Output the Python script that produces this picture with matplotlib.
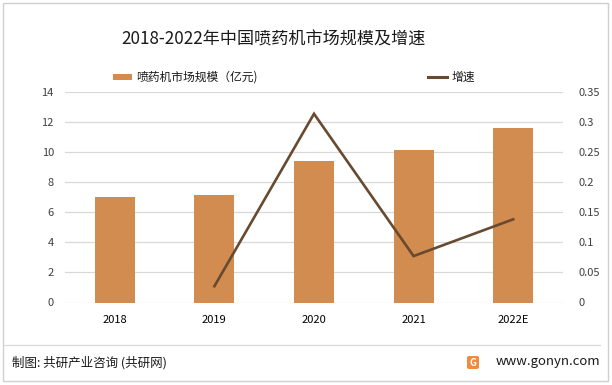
import matplotlib
matplotlib.use("Agg")
import matplotlib.pyplot as plt
from matplotlib.patches import Rectangle, FancyBboxPatch
from matplotlib.lines import Line2D

plt.rcParams['font.family'] = ['Noto Sans CJK SC', 'DejaVu Sans']

years = ["2018", "2019", "2020", "2021", "2022E"]
market_size = [7.0, 7.15, 9.4, 10.13, 11.55]
growth_years = ["2019", "2020", "2021", "2022E"]
growth = [0.027, 0.313, 0.077, 0.138]

title = "2018-2022年中国喷药机市场规模及增速"
bar_label = "喷药机市场规模（亿元)"
line_label = "增速"
footer_left = "制图: 共研产业咨询 (共研网)"
footer_right = "www.gonyn.com"

bar_color = "#D38C4F"
line_color = "#674A30"
grid_color = "#D9D9D9"
text_color = "#404040"

W, H = 612, 385
fig = plt.figure(figsize=(W / 100, H / 100), dpi=100)
fig.patch.set_facecolor("white")

# outer border
fig.add_artist(Rectangle((3 / W, 4 / H), 605 / W, 378 / H, transform=fig.transFigure,
                         fill=False, edgecolor="#D0D0D0", linewidth=1.0))
# footer separator
fig.add_artist(Line2D([3 / W, 600 / W], [1 - 345 / H, 1 - 345 / H], transform=fig.transFigure,
                      color="#D9D9D9", linewidth=0.9))

ax = fig.add_axes([65 / W, 1 - 302.5 / H, 498 / W, 211 / H])
ax.set_facecolor("none")
x = list(range(len(years)))
ax.bar(x, market_size, width=0.4, color=bar_color, zorder=2, label=bar_label)
ax.set_xlim(-0.5, len(years) - 0.5)
ax.set_ylim(0, 14)
ax.set_yticks(range(0, 15, 2))
ax.set_xticks(x)
ax.set_xticklabels(years)
ax.yaxis.grid(True, color=grid_color, linewidth=0.9, zorder=0)
ax.set_axisbelow(True)
for s in ax.spines.values():
    s.set_visible(False)
ax.tick_params(axis="both", length=0, labelsize=8, colors=text_color)
ax.tick_params(axis="y", pad=8)
ax.tick_params(axis="x", pad=9, colors="#000000")

ax2 = ax.twinx()
gx = [years.index(y) for y in growth_years]
ax2.plot(gx, growth, color=line_color, linewidth=1.9, zorder=3, label=line_label,
         solid_joinstyle="miter")
ax2.set_ylim(0, 0.35)
ax2.set_yticks([0, 0.05, 0.1, 0.15, 0.2, 0.25, 0.3, 0.35])
ax2.set_yticklabels(["0", "0.05", "0.1", "0.15", "0.2", "0.25", "0.3", "0.35"])
for s in ax2.spines.values():
    s.set_visible(False)
ax2.tick_params(axis="y", length=0, labelsize=8, colors=text_color, pad=11)

fig.text(273 / W, 1 - 39 / H, title, fontsize=12.3, ha="center", va="center", color="#1a1a1a")

# legend
fig.add_artist(Rectangle((113 / W, 1 - 80 / H), 19 / W, 6 / H, transform=fig.transFigure,
                         facecolor=bar_color, edgecolor="none"))
fig.text(136 / W, 1 - 77 / H, bar_label, fontsize=8.5, ha="left", va="center", color="#1a1a1a")
fig.add_artist(Line2D([428 / W, 447 / W], [1 - 77 / H, 1 - 77 / H], transform=fig.transFigure,
                      color=line_color, linewidth=2.2))
fig.text(452 / W, 1 - 77 / H, line_label, fontsize=8.5, ha="left", va="center", color="#1a1a1a")

# footer
fig.text(12 / W, 1 - 363 / H, footer_left, fontsize=9, ha="left", va="center", color="#1a1a1a")
fig.add_artist(FancyBboxPatch((467 / W, 1 - 369 / H), 12 / W, 13 / H, transform=fig.transFigure,
                              boxstyle="round,pad=0,rounding_size=0.004",
                              facecolor="#F08A3C", edgecolor="none"))
fig.text(473 / W, 1 - 362.5 / H, "G", fontsize=7, fontweight="bold", ha="center", va="center",
         color="white")
fig.text(600 / W, 1 - 362 / H, footer_right, fontsize=9.5, ha="right", va="center", color="#1a1a1a")

fig.savefig("out.png", dpi=100, facecolor="white")
